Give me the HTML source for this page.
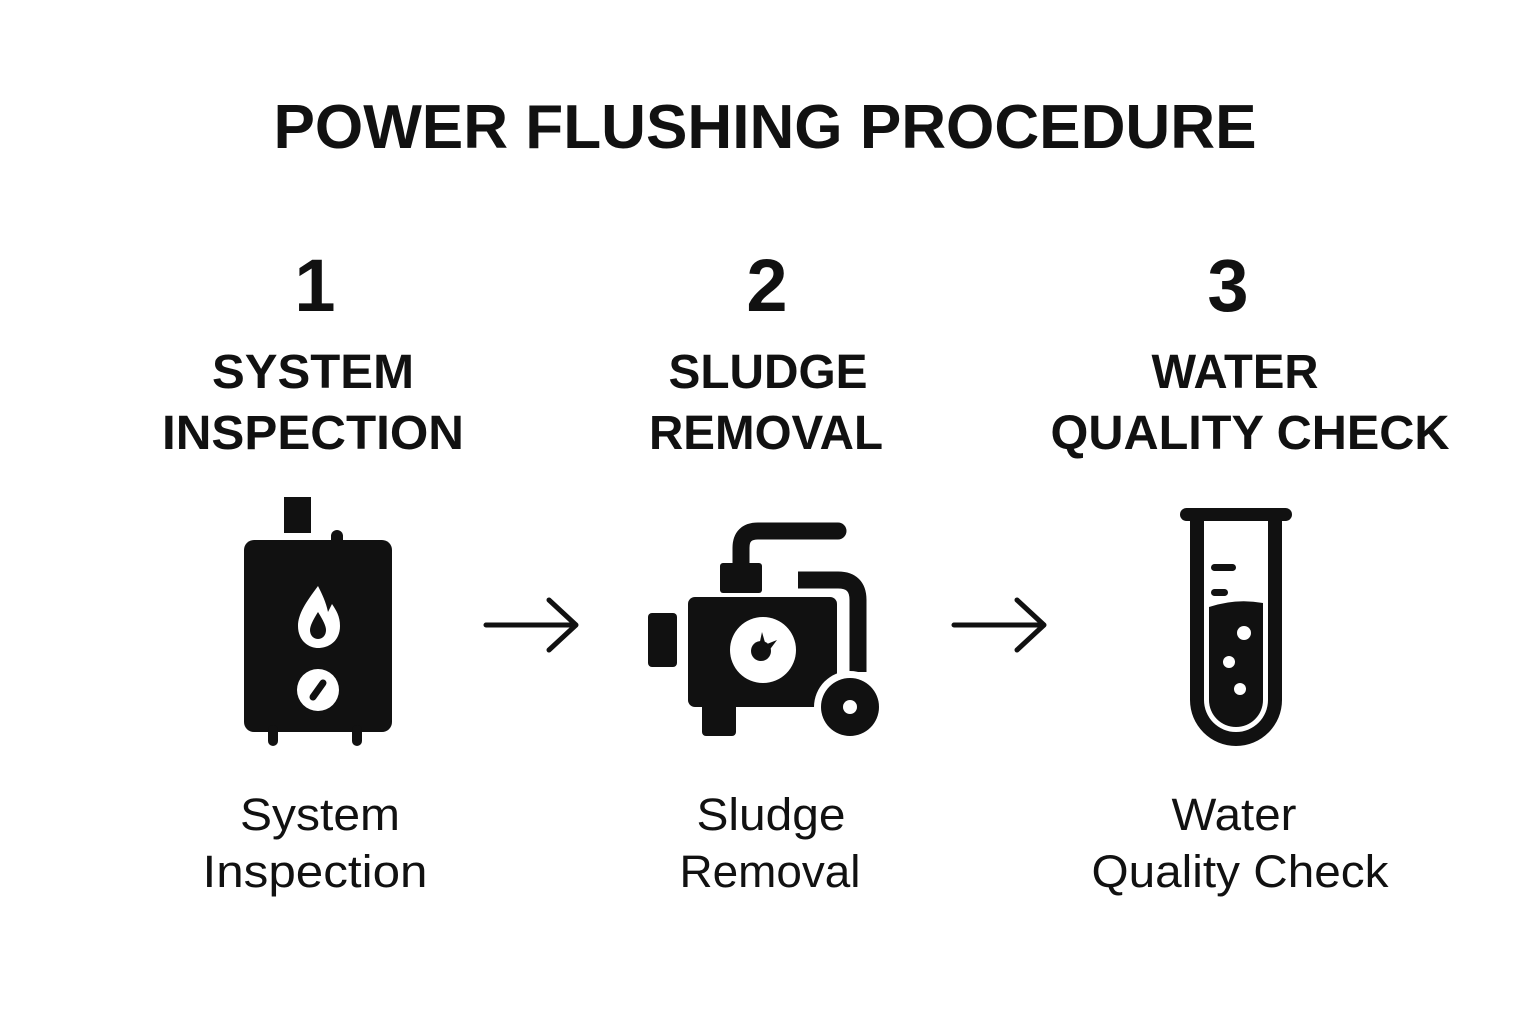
<!DOCTYPE html>
<html><head><style>
html,body{margin:0;padding:0;background:#fff;}
svg{display:block}
text{font-family:"Liberation Sans",sans-serif;fill:#111;text-anchor:middle}
.b{font-weight:bold}
</style></head><body>
<svg width="1536" height="1024" viewBox="0 0 1536 1024" xmlns="http://www.w3.org/2000/svg">
<rect width="1536" height="1024" fill="#fff"/>
<text x="765" y="148" class="b" font-size="62" textLength="983" lengthAdjust="spacingAndGlyphs">POWER FLUSHING PROCEDURE</text>
<text x="315" y="311" class="b" font-size="74">1</text>
<text x="767" y="311" class="b" font-size="74">2</text>
<text x="1228" y="311" class="b" font-size="74">3</text>
<text x="313" y="388" class="b" font-size="48" textLength="202" lengthAdjust="spacingAndGlyphs">SYSTEM</text>
<text x="313" y="449" class="b" font-size="48" textLength="302" lengthAdjust="spacingAndGlyphs">INSPECTION</text>
<text x="768" y="388" class="b" font-size="48" textLength="199" lengthAdjust="spacingAndGlyphs">SLUDGE</text>
<text x="766" y="449" class="b" font-size="48" textLength="234" lengthAdjust="spacingAndGlyphs">REMOVAL</text>
<text x="1235" y="388" class="b" font-size="48" textLength="167" lengthAdjust="spacingAndGlyphs">WATER</text>
<text x="1250" y="449" class="b" font-size="48" textLength="399" lengthAdjust="spacingAndGlyphs">QUALITY CHECK</text>
<text x="320" y="830" font-size="45" textLength="160" lengthAdjust="spacingAndGlyphs">System</text>
<text x="315" y="887" font-size="45" textLength="225" lengthAdjust="spacingAndGlyphs">Inspection</text>
<text x="771" y="830" font-size="45" textLength="149" lengthAdjust="spacingAndGlyphs">Sludge</text>
<text x="770" y="887" font-size="45" textLength="181" lengthAdjust="spacingAndGlyphs">Removal</text>
<text x="1234" y="830" font-size="45" textLength="125" lengthAdjust="spacingAndGlyphs">Water</text>
<text x="1240" y="887" font-size="45" textLength="297" lengthAdjust="spacingAndGlyphs">Quality Check</text>

<!-- boiler -->
<g fill="#111">
<rect x="284" y="497" width="27" height="36"/>
<rect x="331" y="530" width="12" height="20" rx="6"/>
<rect x="244" y="540" width="148" height="192" rx="10"/>
<rect x="268" y="725" width="10" height="21" rx="5"/>
<rect x="352" y="725" width="10" height="21" rx="5"/>
</g>
<path d="M318 586 C306 602 298 614 298 626 C298 640 308 648 318 648 C330 648 340 640 340 626 C340 616 336 610 332 604 L328 612 C326 602 322 594 318 586Z" fill="#fff"/>
<path d="M318 612 C313 620 310 626 310 630 C310 636 314 639 318 639 C322 639 326 636 326 630 C326 626 323 620 318 612Z" fill="#111"/>
<ellipse cx="318" cy="690" rx="21" ry="21" fill="#fff"/>
<line x1="313" y1="697" x2="323" y2="683" stroke="#111" stroke-width="7" stroke-linecap="round"/>

<!-- arrows -->
<g stroke="#111" stroke-width="5" fill="none" stroke-linecap="round" stroke-linejoin="round">
<path d="M486 625 H576 M549 600 L576 625 L549 650"/>
<path d="M954 625 H1044 M1017 600 L1044 625 L1017 650"/>
</g>

<!-- pump -->
<g fill="#111">
<path d="M741 570 V548 Q741 531 758 531 H838" stroke="#111" stroke-width="17" fill="none" stroke-linecap="round"/>
<path d="M798 580 H838 Q858 580 858 600 V672" stroke="#111" stroke-width="17" fill="none" stroke-linecap="butt"/>
<rect x="720" y="563" width="42" height="30" rx="3"/>
<rect x="648" y="613" width="29" height="54" rx="4"/>
<rect x="688" y="597" width="149" height="110" rx="7"/>
<rect x="702" y="700" width="34" height="36" rx="4"/>
<circle cx="850" cy="707" r="36" fill="#fff"/>
<circle cx="850" cy="707" r="29"/>
<circle cx="850" cy="707" r="7" fill="#fff"/>
</g>
<circle cx="763" cy="650" r="33" fill="#fff"/>
<circle cx="761" cy="651" r="10" fill="#111"/>
<path d="M759 646 L762 632 L766 646Z M762 646 L777 640 L768 652Z" fill="#111"/>

<!-- test tube -->
<g fill="#111">
<rect x="1180" y="508" width="112" height="13" rx="6.5"/>
<path d="M1190 515 H1204 V700 A32 32 0 0 0 1268 700 V515 H1282 V700 A46 46 0 0 1 1190 700Z"/>
<path d="M1209 607 Q1236 598 1263 603 V700 A27 27 0 0 1 1209 700Z"/>
<rect x="1211" y="564" width="25" height="7" rx="3.5"/>
<rect x="1211" y="589" width="17" height="7" rx="3.5"/>
</g>
<circle cx="1244" cy="633" r="7" fill="#fff"/>
<circle cx="1229" cy="662" r="6" fill="#fff"/>
<circle cx="1240" cy="689" r="6" fill="#fff"/>
</svg>
</body></html>
